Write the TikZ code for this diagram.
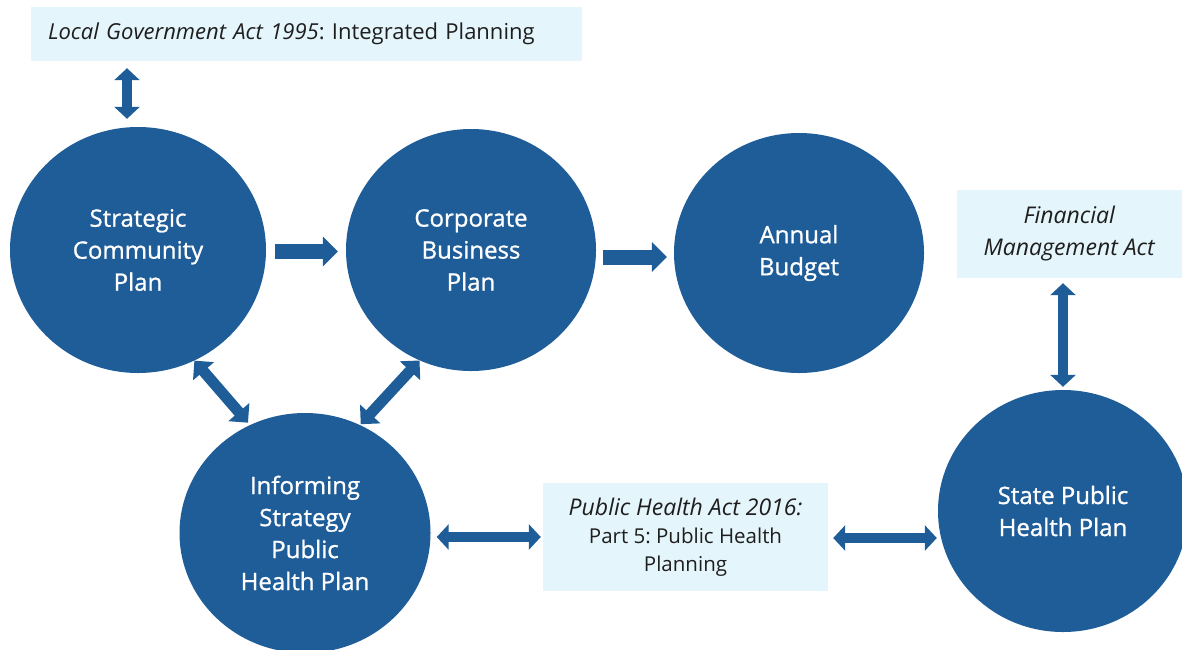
\documentclass[tikz,border=0pt]{standalone}
\usepackage{fontspec}
\setmainfont{Open Sans}
\newfontfamily\circfont[FakeBold=1]{Open Sans}
\frenchspacing
\usetikzlibrary{shapes.geometric,arrows.meta}
\definecolor{cblue}{RGB}{31,93,153}
\definecolor{boxfill}{RGB}{229,245,252}
\definecolor{boxtext}{RGB}{30,30,30}
\tikzset{
  circ/.style={ellipse, fill=cblue, inner sep=0pt, text=white, align=center,
    font=\circfont\fontsize{24}{32}\selectfont},
  actbox/.style={rectangle, fill=boxfill, inner sep=0pt, text=boxtext, align=center},
  onearrow/.style={draw=cblue, line width=15pt,
    -{Triangle[width=29pt,length=15pt]}},
  twoarrow/.style={draw=cblue, line width=10pt,
    {Triangle[width=25pt,length=12pt]}-{Triangle[width=25pt,length=12pt]}},
  diagarrow/.style={draw=cblue, line width=11pt,
    {Triangle[width=27pt,length=14pt]}-{Triangle[width=27pt,length=14pt]}},
}
\begin{document}
\begin{tikzpicture}[x=1pt,y=-1pt]
\useasboundingbox (0,0) rectangle (1182,649);
% circles
\node[circ, minimum width=256pt, minimum height=246pt] (scp) at (138,250) {Strategic\\Community\\Plan};
\node[circ, minimum width=250pt, minimum height=242pt] (cbp) at (471,250) {Corporate\\Business\\Plan};
\node[circ, minimum width=250pt, minimum height=240pt] (ab) at (799,253) {Annual\\Budget};
\node[circ, minimum width=251pt, minimum height=240pt] (isp) at (305,533) {Informing\\Strategy\\Public\\Health Plan};
\node[circ, minimum width=250pt, minimum height=242pt] (sph) at (1063,511) {State Public\\Health Plan};
% boxes
\node[actbox, minimum width=551pt, minimum height=54pt, text width=517pt, inner xsep=17pt, align=left,
  font=\fontsize{22}{26}\selectfont] (lga) at (306.5,34)
  {\textit{Local Government Act 1995}: Integrated Planning};
\node[actbox, minimum width=225pt, minimum height=88pt, font=\fontsize{23}{32}\selectfont] (fma) at (1069.5,234)
  {\textit{Financial}\\\textit{Management Act}};
\node[actbox, minimum width=285pt, minimum height=108pt, font=\fontsize{20.5}{28}\selectfont] (pha) at (685.5,537)
  {{\fontsize{23}{28}\selectfont\textit{Public Health Act 2016:}}\\Part 5: Public Health\\Planning};
% connectors
\draw[onearrow, shorten <=9pt, shorten >=8pt] ([yshift=-1.5pt]scp.east) -- ([yshift=-1.5pt]scp.east -| cbp.west);
\draw[onearrow, shorten <=7pt, shorten >=7pt] ([yshift=-7pt]cbp.east) -- ([yshift=-7pt]cbp.east -| ab.west);
\coordinate (scptop) at ([xshift=-11pt]scp.north);
\draw[twoarrow, shorten <=7pt, shorten >=8pt] (lga.south -| scptop) -- (scptop);
\draw[diagarrow, shorten >=3pt] (scp.-63) -- (isp.117);
\draw[diagarrow, shorten >=1pt] (cbp.-115) -- (isp.63);
\draw[twoarrow, shorten <=6pt, shorten >=2pt] (pha.west -| isp.east) -- (pha.west);
\draw[twoarrow, shorten <=5pt, shorten >=1pt] ([yshift=-1pt]pha.east) -- ([yshift=-1pt]pha.east -| sph.west);
\draw[twoarrow, shorten <=5pt, shorten >=3pt] (sph.north |- fma.south) -- (sph.north);
\end{tikzpicture}
\end{document}
